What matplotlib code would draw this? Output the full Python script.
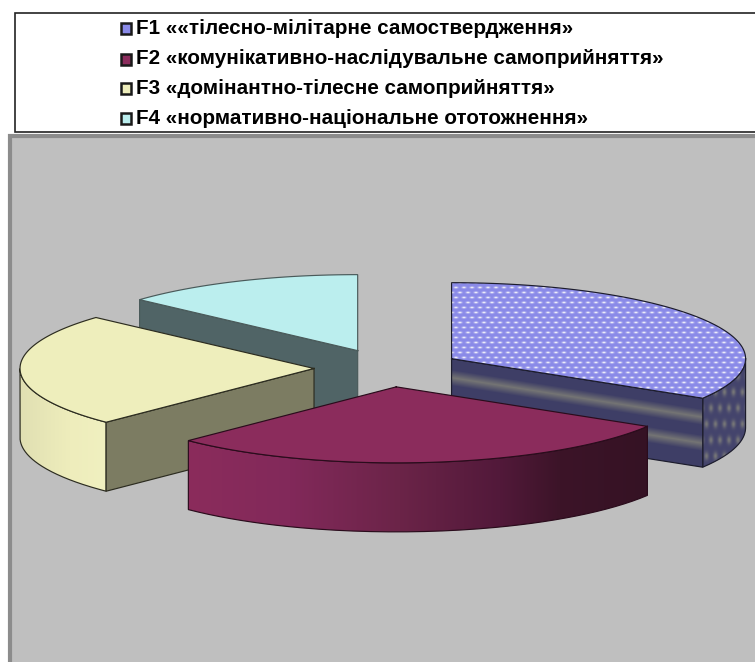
import numpy as np
import matplotlib
matplotlib.use('Agg')
import matplotlib.pyplot as plt
from matplotlib.patches import Polygon, Rectangle

# Data
labels = ['F1 ««тілесно-мілітарне самоствердження»',
          'F2 «комунікативно-наслідувальне самоприйняття»',
          'F3 «домінантно-тілесне самоприйняття»',
          'F4 «нормативно-національне ототожнення»']
shares = [33.7, 28.8, 24.2, 13.3]
top_colors = ['#8a8ae8', '#8b2c5c', '#eeeebc', '#bbeeee']
face_colors = ['#3e3e66', '#5a1e3e', '#7c7c62', '#506466']
edge_colors = ['#1c1c2c', '#2a0c1c', '#2c2c20', '#4a5a5a']

W, H = 755, 662
cx, cy = 387.5, 368   # pie centre in pixels
rx, ry = 294, 76      # ellipse radii
depth = 69
explode = 0.25

plt.rcParams['font.family'] = ['Liberation Sans', 'DejaVu Sans']

fig = plt.figure(figsize=(W / 100, H / 100), dpi=100, facecolor='white')
ax = fig.add_axes([0, 0, 1, 1])
ax.set_xlim(0, W)
ax.set_ylim(H, 0)
ax.axis('off')

# Pixel grid for the gradient and texture fills
X, Y = np.meshgrid(np.arange(W) + 0.5, np.arange(H) + 0.5)


def hex2rgb(c):
    return np.array(matplotlib.colors.to_rgb(c))


def ramp(pos, stops, colors):
    # piecewise colour ramp
    cols = np.array([hex2rgb(c) for c in colors])
    return np.dstack([np.interp(pos, stops, cols[:, i]) for i in range(3)])


def paint(pts, rgb, z, edge):
    poly = Polygon(pts, closed=True, transform=ax.transData, fc='none', ec='none')
    ax.add_patch(poly)
    im = ax.imshow(rgb, extent=(0, W, H, 0), interpolation='bilinear', zorder=z, aspect='auto')
    im.set_clip_path(poly)
    ax.plot(*np.array(list(pts) + [pts[0]]).T, color=edge, lw=0.85, zorder=z + 0.1,
            solid_joinstyle='miter')


def arc(x0, y0, t0, t1, n=120):
    t = np.radians(np.linspace(t0, t1, n))
    return np.column_stack([x0 + rx * np.sin(t), y0 - ry * np.cos(t)])


def top_texture():
    # white dots in staggered rows, as in the F1 fill
    row = np.floor(Y / 5.0)
    xx = (X + 4 * (row % 2)) % 8 - 4
    yy = Y % 5.0 - 2.5
    d = np.exp(-(xx / 2.0) ** 2 - (yy / 1.0) ** 2)[..., None]
    return hex2rgb(top_colors[0]) * (1 - d) + hex2rgb('#f2f2fa') * d


def rim_texture():
    row = np.floor(Y / 16.0)
    xx = (X + 4.5 * (row % 2)) % 9 - 4.5
    yy = Y % 16.0 - 8
    d = 0.7 * np.exp(-(xx / 2.2) ** 2 - (yy / 4.0) ** 2)[..., None]
    return hex2rgb('#44446c') * (1 - d) + hex2rgb('#8a8a7c') * d


# Legend box and chart panel
ax.add_patch(Rectangle((14.5, 13), W, 119, fc='white', ec='#222222', lw=1.2, zorder=1))
ax.add_patch(Rectangle((9.5, 135.5), W, H, fc='#bfbfbf', ec='#8c8c8c', lw=3, zorder=1))

rows_y = [28, 59, 88, 118]
for lab, col, y in zip(labels, top_colors, rows_y):
    ax.add_patch(Rectangle((120.5, y - 5.5), 10, 11, fc=col, ec='#1a1a1a', lw=1.8, zorder=3))
    ax.text(135.5, y, lab, fontsize=14.85, fontweight='bold', color='black', va='center', ha='left', zorder=3)

# Slice angles (clockwise from 12 o'clock) from the shares
total = sum(shares)
edges = np.concatenate([[0], np.cumsum(shares)]) / total * 360

# Back slices first
order = [3, 2, 0, 1]
for k, i in enumerate(order):
    t0, t1 = edges[i], edges[i + 1]
    mid = np.radians((t0 + t1) / 2)
    x0 = cx + rx * explode * np.sin(mid)
    y0 = cy - ry * explode * np.cos(mid)
    z = 5 + k
    rim0, rim1 = max(t0, 90), min(t1, 270)

    # outer rim, front half only
    if rim1 > rim0:
        a = arc(x0, y0, rim0, rim1)
        pts = [tuple(p) for p in a] + [tuple(p + [0, depth]) for p in a[::-1]]
        if i == 0:
            rgb = rim_texture()
        elif i == 1:
            rgb = ramp(X, [188, 290, 400, 500, 560, 648],
                       ['#8b2c5c', '#82295a', '#6b2448', '#52193a', '#3c1428', '#351224'])
        else:
            rgb = ramp(X, [20, 40, 70, 106], ['#e0dfb2', '#e6e5b6', '#eeedbc', '#f0f0c0'])
        paint(pts, rgb, z, edge_colors[i])

    # cut faces that turn towards the viewer
    if np.sin(np.radians(t0)) < -1e-6:
        t = t0
    elif np.sin(np.radians(t1)) > 1e-6:
        t = t1
    else:
        t = None
    if t is not None:
        e = arc(x0, y0, t, t, 1)[0]
        pts = [(x0, y0), tuple(e), (e[0], e[1] + depth), (x0, y0 + depth)]
        if i == 0:
            # grey bands run along the upper edge of the face
            off = Y - (y0 + (X - x0) * (e[1] - y0) / (e[0] - x0))
            rgb = ramp(off, [0, 11, 19, 27, 37, 45, 53, 69],
                       [face_colors[0], face_colors[0], '#747474', face_colors[0],
                        face_colors[0], '#747474', face_colors[0], face_colors[0]])
        else:
            rgb = np.broadcast_to(hex2rgb(face_colors[i]), X.shape + (3,))
        paint(pts, rgb, z + 0.2, edge_colors[i])

    # top of the slice
    pts = [(x0, y0)] + [tuple(p) for p in arc(x0, y0, t0, t1)]
    if i == 0:
        rgb = top_texture()
    else:
        rgb = np.broadcast_to(hex2rgb(top_colors[i]), X.shape + (3,))
    paint(pts, rgb, z + 0.4, edge_colors[i])

ax.set_xlim(0, W)
ax.set_ylim(H, 0)
fig.savefig('out.png', dpi=100, facecolor='white')
